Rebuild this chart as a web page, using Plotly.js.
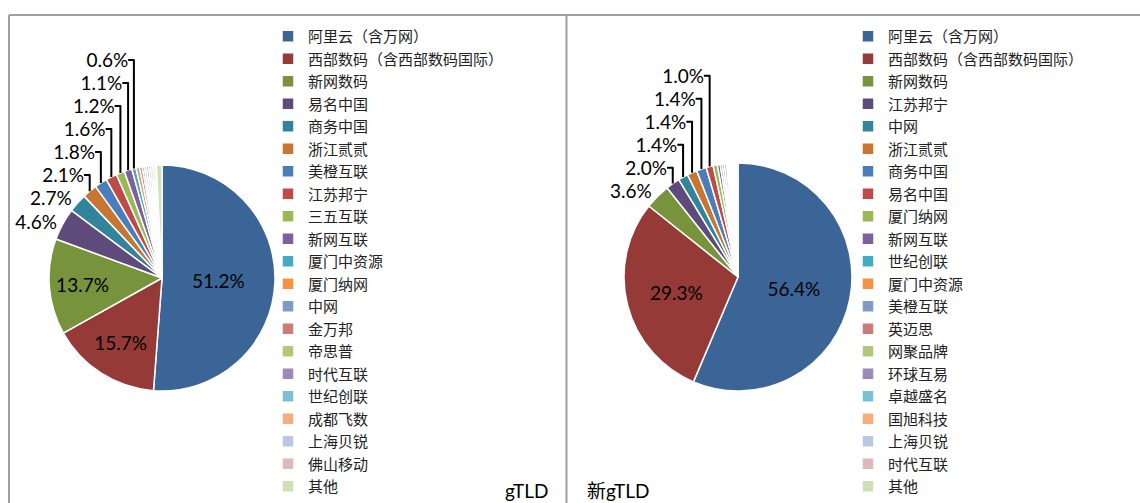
<!DOCTYPE html>
<html>
<head>
<meta charset="utf-8">
<script src="https://cdn.plot.ly/plotly-3.0.1.min.js"></script>
<style>
html,body{margin:0;padding:0;background:#fff;}
#chart{width:1140px;height:503px;}
</style>
</head>
<body>
<div id="chart"></div>
<script>
// gTLD market share (%)
var gLabels = ["阿里云（含万网）","西部数码（含西部数码国际）","新网数码","易名中国","商务中国","浙江贰贰","美橙互联","江苏邦宁","三五互联","新网互联","厦门中资源","厦门纳网","中网","金万邦","帝思普","时代互联","世纪创联","成都飞数","上海贝锐","佛山移动","其他"];
var gValues = [51.2,15.7,13.7,4.6,2.7,2.1,1.8,1.6,1.2,1.1,0.6,0.5,0.4,0.3,0.3,0.3,0.3,0.3,0.3,0.2,0.8];
var gShown = 11; // number of slices with a percent label

// New gTLD market share (%)
var nLabels = ["阿里云（含万网）","西部数码（含西部数码国际）","新网数码","江苏邦宁","中网","浙江贰贰","商务中国","易名中国","厦门纳网","新网互联","世纪创联","厦门中资源","美橙互联","英迈思","网聚品牌","环球互易","卓越盛名","国旭科技","上海贝锐","时代互联","其他"];
var nValues = [56.4,29.3,3.6,2.0,1.4,1.4,1.4,1.0,0.6,0.4,0.3,0.3,0.3,0.2,0.2,0.2,0.2,0.2,0.2,0.2,0.2];
var nShown = 8;

var panelTitles = ["gTLD","新gTLD"];

var palette = ["#3C6597","#953A37","#77933C","#5E4B7C","#31849B","#C77530","#4A7EBB","#BE4B48","#98B954","#7D60A0","#46AAC5","#F69240","#7E9BC8","#CD7B7A","#AFC97A","#9D8BB5","#7CC0D6","#F9AC7B","#B9C8E2","#E2B8B7","#CFDFB8"];

var W = 1140, H = 503;
function px2x(p){return p/W;}
function px2y(p){return 1 - p/H;}

// suffix keeps each pie's legend entries independent (zero-width spaces, invisible)
function makePie(labels, values, shown, insideCount, cx, cy, r, legendId, suffix){
  var pos = [], tmpl = [], labs = [];
  for (var i=0;i<values.length;i++){
    labs.push(labels[i] + suffix);
    if (i < insideCount){pos.push('inside'); tmpl.push('%{value:.1f}%');}
    else if (i < shown){pos.push('outside'); tmpl.push('%{value:.1f}%');}
    else {pos.push('none'); tmpl.push('');}
  }
  return {
    type:'pie', labels:labs, values:values, sort:false,
    direction:'clockwise', rotation:0,
    marker:{colors:palette.slice(0,values.length), line:{color:'#ffffff', width:1.5}},
    textposition:pos, texttemplate:tmpl,
    insidetextorientation:'horizontal',
    textfont:{family:'Lato, "Noto Sans", sans-serif', size:19, color:'#000'},
    outsidetextfont:{family:'Lato, "Noto Sans", sans-serif', size:19, color:'#000'},
    automargin:false,
    domain:{x:[px2x(cx-r), px2x(cx+r)], y:[px2y(cy+r), px2y(cy-r)]},
    legend:legendId, showlegend:true, hoverinfo:'label+percent'
  };
}

var data = [
  makePie(gLabels, gValues, gShown, 3, 162, 278, 113, 'legend', ''),
  makePie(nLabels, nValues, nShown, 2, 738, 277, 114, 'legend2', '\u200B')
];

var legendFont = {family:'"Noto Sans CJK SC", sans-serif', size:15, color:'#222'};
var layout = {
  width:W, height:H, margin:{l:0,r:0,t:0,b:0},
  paper_bgcolor:'#fff', plot_bgcolor:'#fff',
  legend:{x:px2x(268), xanchor:'left', y:px2y(26), yanchor:'top', font:legendFont, bgcolor:'rgba(0,0,0,0)', traceorder:'normal'},
  legend2:{x:px2x(848), xanchor:'left', y:px2y(26), yanchor:'top', font:legendFont, bgcolor:'rgba(0,0,0,0)', traceorder:'normal'},
  shapes:[
    {type:'line', xref:'paper', yref:'paper', x0:px2x(9), x1:1, y0:px2y(15), y1:px2y(15), line:{color:'#A0A0A0', width:2}},
    {type:'line', xref:'paper', yref:'paper', x0:px2x(9), x1:px2x(9), y0:px2y(15), y1:0, line:{color:'#A0A0A0', width:2}},
    {type:'line', xref:'paper', yref:'paper', x0:px2x(566.5), x1:px2x(566.5), y0:px2y(15), y1:0, line:{color:'#A0A0A0', width:2}}
  ],
  annotations:[
    {text:panelTitles[0], xref:'paper', yref:'paper', x:px2x(550), y:px2y(490), xanchor:'right', yanchor:'middle', showarrow:false, font:{family:'Lato, sans-serif', size:19, color:'#000'}},
    {text:panelTitles[1], xref:'paper', yref:'paper', x:px2x(585), y:px2y(490), xanchor:'left', yanchor:'middle', showarrow:false, font:{family:'Lato, "Noto Sans CJK SC", sans-serif', size:19, color:'#000'}}
  ]
};

Plotly.newPlot('chart', data, layout, {displayModeBar:false, staticPlot:true});
</script>
</body>
</html>
